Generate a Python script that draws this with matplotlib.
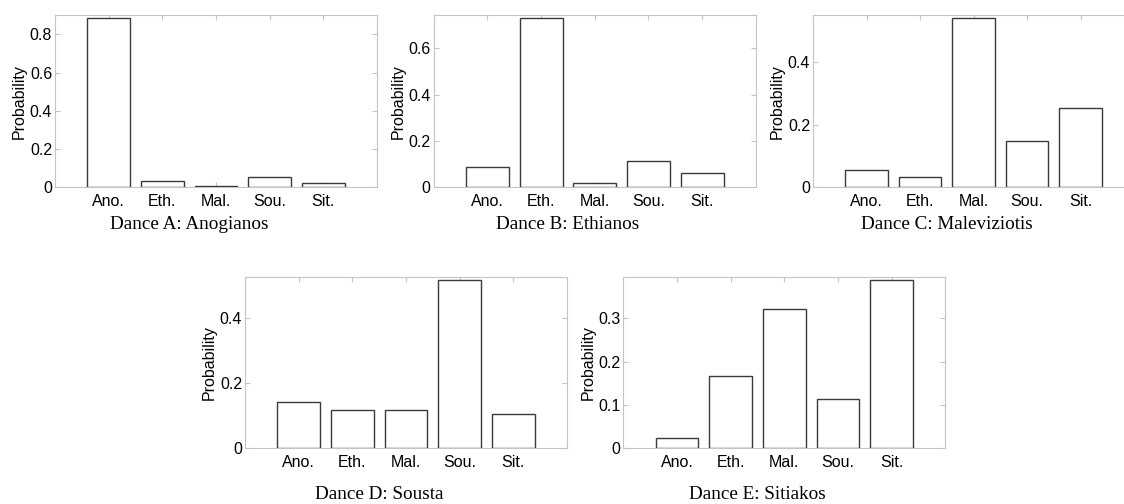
import numpy as np
import matplotlib
matplotlib.use('Agg')
import matplotlib.pyplot as plt
from matplotlib.ticker import FuncFormatter

# class labels on the x axis
classes = ['Ano.', 'Eth.', 'Mal.', 'Sou.', 'Sit.']

# probabilities, one list per dance
dance_a = [0.883, 0.033, 0.005, 0.055, 0.022]
dance_b = [0.086, 0.729, 0.017, 0.112, 0.060]
dance_c = [0.055, 0.032, 0.538, 0.148, 0.254]
dance_d = [0.142, 0.119, 0.117, 0.518, 0.106]
dance_e = [0.023, 0.166, 0.321, 0.113, 0.388]

captions = ['Dance A: Anogianos', 'Dance B: Ethianos', 'Dance C: Maleviziotis',
            'Dance D: Sousta', 'Dance E: Sitiakos']
yticks = [[0, 0.2, 0.4, 0.6, 0.8], [0, 0.2, 0.4, 0.6], [0, 0.2, 0.4],
          [0, 0.2, 0.4], [0, 0.1, 0.2, 0.3]]

W, H = 1124, 504
# axes boxes in pixels: left, top, width, height
boxes = [(55, 15, 322, 172.3), (433.5, 15, 322.5, 172.3), (813, 15, 321, 172.3),
         (245, 276.7, 322, 171.6), (623.3, 276.7, 322, 171.6)]
cap_y = [229.5, 229.5, 229.5, 499.3, 499.3]

plt.rcParams['font.family'] = ['Liberation Sans', 'DejaVu Sans']

fig = plt.figure(figsize=(W / 100, H / 100), dpi=100)
fig.patch.set_facecolor('white')

data = [dance_a, dance_b, dance_c, dance_d, dance_e]
gray = '#c4c4c4'
x = np.arange(1, len(classes) + 1)

for i, vals in enumerate(data):
    l, t, w, h = boxes[i]
    ax = fig.add_axes([l / W, 1 - (t + h) / H, w / W, h / H])
    ax.bar(x, vals, width=0.8, color='white', edgecolor='#3a3a3a', linewidth=1.0, zorder=3)
    ax.set_xlim(0, 6)
    ax.set_ylim(0, max(vals) * 1.02)
    ax.set_xticks(x)
    ax.set_xticklabels(classes)
    ax.set_yticks(yticks[i])
    ax.yaxis.set_major_formatter(FuncFormatter(lambda v, p: '%g' % v))
    for s in ax.spines.values():
        s.set_color(gray)
        s.set_linewidth(0.8)
    ax.tick_params(direction='in', length=3.5, width=0.8, color=gray,
                   labelsize=11.5, labelcolor='black', top=True, right=True)
    ax.tick_params(axis='x', pad=4.5)
    ax.tick_params(axis='y', pad=2)
    ax.set_ylabel('Probability', fontsize=11.5)
    ax.yaxis.set_label_coords(-28 / w, 0.5)
    fig.text((l + w / 2 - 27) / W, 1 - cap_y[i] / H, captions[i],
             family='Liberation Serif', fontsize=13.8, ha='center', va='baseline')

fig.savefig('out.png', dpi=100)
